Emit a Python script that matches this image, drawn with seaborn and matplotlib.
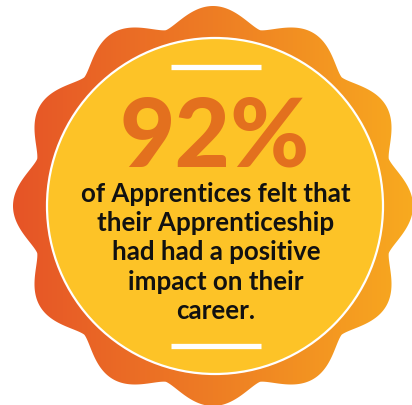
import numpy as np
import matplotlib.pyplot as plt
import seaborn as sns
from matplotlib.patches import Polygon, Circle

percent = 92
caption_lines = ["of Apprentices felt that", "their Apprenticeship",
                 "had had a positive", "impact on their", "career."]

sns.set_theme(style="white")
plt.rcParams['font.family'] = ['Lato', 'DejaVu Sans']

fig = plt.figure(figsize=(4.12, 4.06), dpi=100)
ax = fig.add_axes([0, 0, 1, 1])
ax.set_xlim(0, 412)
ax.set_ylim(406, 0)
ax.axis('off')

# scalloped badge, 12 lobes (broad lobes, tighter valleys)
cx, cy = 213, 207
theta = np.linspace(0, 2 * np.pi, 1441)
wave = (1 + np.cos(12 * theta)) / 2
r = 182 + 18 * wave ** 0.7
badge = Polygon(np.column_stack([cx + r * np.cos(theta), cy - r * np.sin(theta)]),
                closed=True, facecolor='none', edgecolor='none')
ax.add_patch(badge)

cmap = sns.blend_palette(["#E65427", "#EE7D24", "#F8AA1F"], as_cmap=True)
grad = np.linspace(0, 1, 256).reshape(1, -1)
img = ax.imshow(grad, cmap=cmap, extent=[cx - 200, cx + 200, cy + 200, cy - 200],
                aspect='auto', zorder=1)
img.set_clip_path(badge)

ax.add_patch(Circle((215, 207), 168, facecolor="#FDC327", edgecolor="white",
                    linewidth=1.6, zorder=2))

# white rules
for y in (68, 347):
    ax.plot([171, 261], [y, y], color="white", linewidth=3.8, solid_capstyle='butt', zorder=3)

ax.text(215, 167, f"{percent}%", ha='center', va='baseline', fontsize=69,
        fontweight='black', color="#E3701E", zorder=4)

for i, line in enumerate(caption_lines):
    ax.text(216, 202 + i * 29.2, line, ha='center', va='baseline', fontsize=18.6,
            fontweight='bold', color="#111111", zorder=4)

fig.savefig("out.png", dpi=100)
